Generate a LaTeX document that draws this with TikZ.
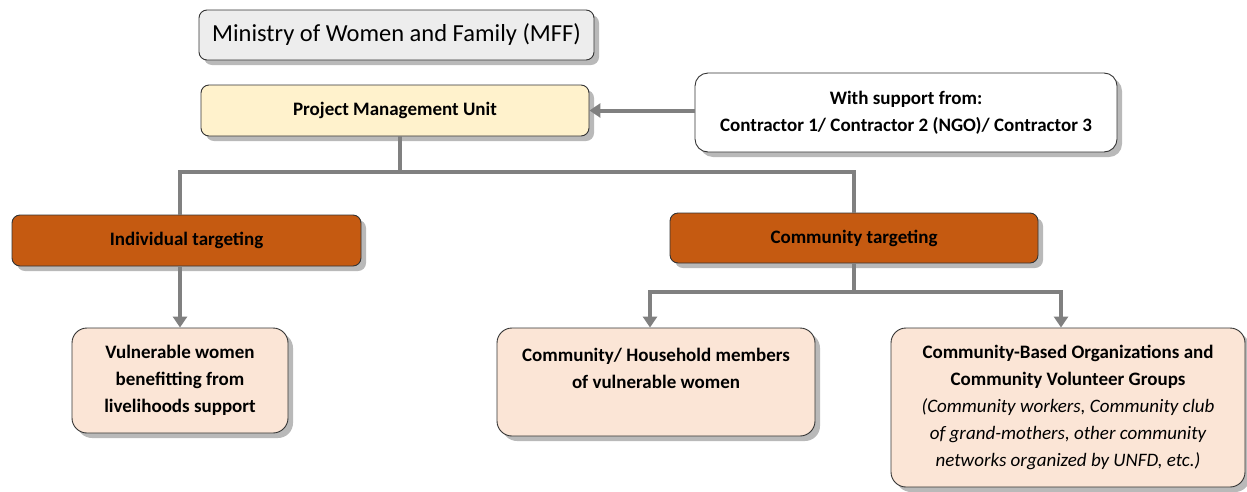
\documentclass[tikz,border=0pt]{standalone}
\usepackage{fontspec}
\setmainfont{Carlito}
\usetikzlibrary{arrows.meta,shadows}

\definecolor{grisclair}{HTML}{EDEDED}
\definecolor{jaunepale}{HTML}{FFF2CC}
\definecolor{brun}{HTML}{C55A11}
\definecolor{rosepale}{HTML}{FBE5D6}
\definecolor{trait}{HTML}{808080}

\begin{document}
\begin{tikzpicture}[x=1pt, y=-1pt,
            boite/.style={draw=black!80, line width=0.9pt, rounded corners=8pt, inner xsep=2pt,
                drop shadow={shadow xshift=5pt, shadow yshift=-5pt, fill=black!55}},
            gris/.style={boite, fill=grisclair, font=\fontsize{24.5}{28}\selectfont},
            jaune/.style={boite, fill=jaunepale, font=\bfseries\fontsize{19}{22}\selectfont},
            blanc/.style={boite, fill=white, rounded corners=13pt, align=center,
                font=\bfseries\fontsize{19}{27}\selectfont},
            brune/.style={boite, fill=brun, font=\bfseries\fontsize{19}{22}\selectfont},
            rose/.style={boite, fill=rosepale, rounded corners=15pt, align=center,
                font=\bfseries\fontsize{19}{27}\selectfont},
            lien/.style={draw=trait, line width=4pt},
            fleche/.style={lien, -{Triangle[width=14pt,length=11pt]}},
        ]
        \useasboundingbox (0,0) rectangle (1247,491);
        % haut
        \node[gris, minimum width=395pt, minimum height=50pt] (mff) at (396.5,35)
            {Ministry of Women and Family (MFF)};
        \node[jaune, minimum width=388pt, minimum height=51pt] (pmu) at (395,110.5)
            {Project Management Unit};
        \node[blanc, minimum width=422pt, minimum height=79pt] (appui) at (906,112.5)
            {With support from:\\ Contractor 1/ Contractor 2 (NGO)/ Contractor 3};
        % ciblage
        \node[brune, minimum width=349pt, minimum height=51pt] (indiv) at (186.5,240.5)
            {Individual targeting};
        \node[brune, minimum width=368pt, minimum height=50pt] (commu) at (854,238)
            {Community targeting};
        % beneficiaires
        \node[rose, minimum width=216pt, minimum height=105pt] (vuln) at (180,380.5)
            {Vulnerable women\\ benefitting from\\ livelihoods support};
        \node[rose, minimum width=318pt, minimum height=108pt] (menage) at (656,382)
            {Community/ Household members\\ of vulnerable women\\ \mbox{}};
        \node[rose, minimum width=354pt, minimum height=159pt] (cbo) at (1068,407.5)
            {Community-Based Organizations and\\ Community Volunteer Groups\\
            {\mdseries\itshape (Community workers, Community club}\\
            {\mdseries\itshape of grand-mothers, other community}\\
            {\mdseries\itshape networks organized by UNFD, etc.)}};
        % liens
        \draw[fleche] (appui.west |- pmu.east) -- (pmu.east);
        \draw[lien] ([xshift=5pt]pmu.south) -- ++(0,36) coordinate (j1)
            -| (indiv.north -| vuln.north);
        \draw[lien] (j1) -| (commu.north);
        \draw[fleche] (indiv.south -| vuln.north) -- (vuln.north);
        \draw[lien] (commu.south) -- ++(0,29) coordinate (j2);
        \draw[fleche] (j2) -| ([xshift=-6pt]menage.north);
        \draw[fleche] (j2) -| ([xshift=-7pt]cbo.north);
    \end{tikzpicture}
\end{document}
